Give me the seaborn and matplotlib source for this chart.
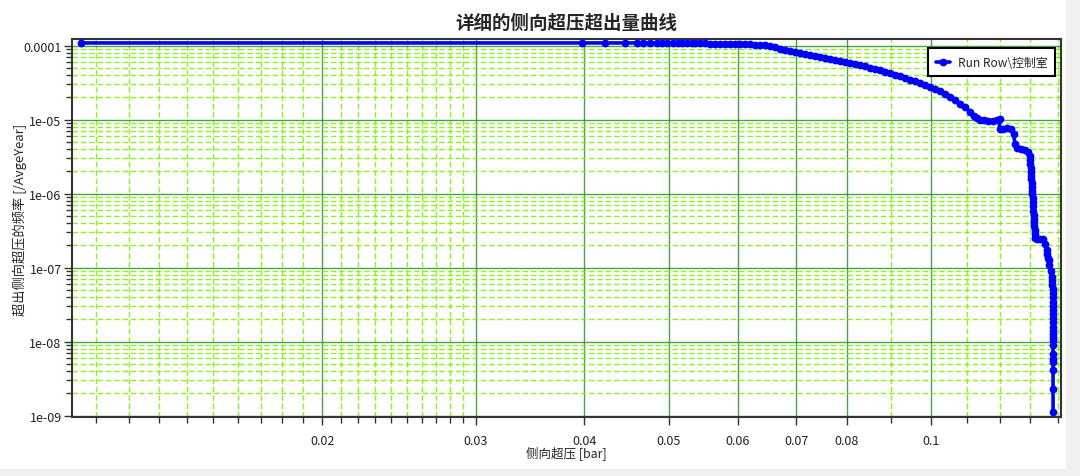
import numpy as np
import pandas as pd
import seaborn as sns
import matplotlib
matplotlib.use("Agg")
import matplotlib.pyplot as plt
from matplotlib.ticker import FixedLocator, FixedFormatter, LogLocator, NullFormatter
from matplotlib.patches import Rectangle

# exceedance curve: overpressure [bar] vs frequency [/AvgeYear]
overpressure = [
    0.01057, 0.03972, 0.04225, 0.04454, 0.04594, 0.04674, 0.04758, 0.04843,
    0.04908, 0.04973, 0.05060, 0.05124, 0.05174, 0.05243, 0.05313, 0.05359,
    0.05430, 0.05502, 0.05576, 0.05650, 0.05725, 0.05801, 0.05878, 0.05956,
    0.06035, 0.06116, 0.06197, 0.06279, 0.06363, 0.06448, 0.06533, 0.06620,
    0.06708, 0.06798, 0.06888, 0.06980, 0.07072, 0.07166, 0.07262, 0.07358,
    0.07456, 0.07555, 0.07656, 0.07758, 0.07861, 0.07965, 0.08072, 0.08178,
    0.08287, 0.08397, 0.08509, 0.08622, 0.08737, 0.08853, 0.08971, 0.09090,
    0.09211, 0.09334, 0.09458, 0.09584, 0.09713, 0.09843, 0.09974, 0.10106,
    0.10241, 0.10377, 0.10515, 0.10655, 0.10797, 0.10941, 0.11086, 0.11204,
    0.11293, 0.11383, 0.11504, 0.11626, 0.11781, 0.11907, 0.11986, 0.11986,
    0.12097, 0.12226, 0.12356, 0.12438, 0.12487, 0.12553, 0.12687, 0.12822,
    0.12924, 0.12975, 0.12985, 0.12996, 0.13010, 0.13020, 0.13030, 0.13037,
    0.13044, 0.13055, 0.13065, 0.13072, 0.13079, 0.13089, 0.13096, 0.13107,
    0.13114, 0.13124, 0.13131, 0.13141, 0.13152, 0.13166, 0.13176, 0.13236,
    0.13341, 0.13458, 0.13519, 0.13580, 0.13601, 0.13627, 0.13651, 0.13674,
    0.13717, 0.13761, 0.13772, 0.13783, 0.13790, 0.13797, 0.13802, 0.13808,
    0.13813, 0.13819, 0.13819, 0.13819, 0.13819, 0.13819, 0.13814, 0.13808,
    0.13808, 0.13808, 0.13808, 0.13808, 0.13808, 0.13808, 0.13808, 0.13808,
    0.13808,
]
frequency = [
    1.087e-4, 1.087e-4, 1.087e-4, 1.087e-4, 1.087e-4, 1.087e-4, 1.087e-4, 1.087e-4,
    1.087e-4, 1.087e-4, 1.087e-4, 1.087e-4, 1.087e-4, 1.087e-4, 1.080e-4, 1.077e-4,
    1.074e-4, 1.070e-4, 1.067e-4, 1.064e-4, 1.061e-4, 1.057e-4, 1.054e-4, 1.051e-4,
    1.047e-4, 1.044e-4, 1.041e-4, 1.035e-4, 1.025e-4, 1.012e-4, 9.85e-5, 9.46e-5,
    9.09e-5, 8.76e-5, 8.44e-5, 8.18e-5, 7.93e-5, 7.69e-5, 7.43e-5, 7.21e-5,
    6.99e-5, 6.78e-5, 6.57e-5, 6.39e-5, 6.21e-5, 6.04e-5, 5.86e-5, 5.66e-5,
    5.46e-5, 5.26e-5, 5.05e-5, 4.84e-5, 4.65e-5, 4.45e-5, 4.26e-5, 4.06e-5,
    3.86e-5, 3.66e-5, 3.46e-5, 3.28e-5, 3.09e-5, 2.92e-5, 2.76e-5, 2.60e-5,
    2.43e-5, 2.21e-5, 2.03e-5, 1.84e-5, 1.65e-5, 1.48e-5, 1.28e-5, 1.12e-5,
    1.04e-5, 9.91e-6, 9.76e-6, 9.67e-6, 9.67e-6, 9.76e-6, 1.006e-5, 7.39e-6,
    7.50e-6, 7.62e-6, 7.39e-6, 6.33e-6, 4.65e-6, 4.11e-6, 3.98e-6, 3.90e-6,
    3.63e-6, 3.21e-6, 2.83e-6, 2.50e-6, 2.21e-6, 1.96e-6, 1.73e-6, 1.58e-6,
    1.39e-6, 1.23e-6, 1.09e-6, 9.91e-7, 8.76e-7, 7.74e-7, 6.84e-7, 5.86e-7,
    5.18e-7, 4.57e-7, 4.17e-7, 3.69e-7, 3.26e-7, 2.88e-7, 2.54e-7, 2.41e-7,
    2.41e-7, 2.41e-7, 2.11e-7, 1.75e-7, 1.55e-7, 1.37e-7, 1.25e-7, 1.10e-7,
    8.89e-8, 7.39e-8, 6.53e-8, 5.77e-8, 5.10e-8, 4.51e-8, 3.98e-8, 3.41e-8,
    3.01e-8, 2.66e-8, 2.35e-8, 2.08e-8, 1.84e-8, 1.58e-8, 1.39e-8, 1.27e-8,
    1.16e-8, 1.05e-8, 8.9e-9, 6.9e-9, 5.9e-9, 5.3e-9, 4.2e-9, 2.3e-9,
    1.12e-9,
]

x_major = [0.02, 0.03, 0.04, 0.05, 0.06, 0.07, 0.08, 0.1]
x_major_labels = ["0.02", "0.03", "0.04", "0.05", "0.06", "0.07", "0.08", "0.1"]
x_minor = [0.011, 0.012, 0.013, 0.014, 0.015, 0.016, 0.017, 0.018, 0.019,
           0.021, 0.022, 0.023, 0.024, 0.025, 0.026, 0.027, 0.028, 0.029,
           0.09, 0.11, 0.12, 0.13, 0.14]
y_major = [1e-9, 1e-8, 1e-7, 1e-6, 1e-5, 1e-4]
y_major_labels = ["1e-09", "1e-08", "1e-07", "1e-06", "1e-05", "0.0001"]

series_name = "Run Row\\控制室"

sns.set_style("white")
plt.rcParams["font.family"] = ["Noto Sans CJK SC", "DejaVu Sans"]
plt.rcParams["axes.unicode_minus"] = False

df = pd.DataFrame({"x": overpressure, "y": frequency, "s": series_name})

fig = plt.figure(figsize=(10.8, 4.77), dpi=100)
fig.patch.set_facecolor("white")
fig.add_artist(Rectangle((1066 / 1080, 0), 1, 1, transform=fig.transFigure,
                         color="#f0f0f0", zorder=-5))
fig.add_artist(Rectangle((0, 0), 1, 7 / 477, transform=fig.transFigure,
                         color="#f0f0f0", zorder=-5))
ax = fig.add_axes([0.0667, 0.1237, 0.9157, 0.7925])
ax.set_xscale("log")
ax.set_yscale("log")

sns.lineplot(data=df, x="x", y="y", hue="s", palette=["#0000ff"], sort=False,
             estimator=None, marker="o", markersize=5.6, markeredgewidth=0,
             linewidth=2.6, ax=ax, zorder=5)

ax.set_xlim(0.01032, 0.1410)
ax.set_ylim(0.96e-9, 1.23e-4)

ax.xaxis.set_major_locator(FixedLocator(x_major))
ax.xaxis.set_major_formatter(FixedFormatter(x_major_labels))
ax.xaxis.set_minor_locator(FixedLocator(x_minor))
ax.xaxis.set_minor_formatter(NullFormatter())
ax.yaxis.set_major_locator(FixedLocator(y_major))
ax.yaxis.set_major_formatter(FixedFormatter(y_major_labels))
ax.yaxis.set_minor_locator(LogLocator(base=10, subs=np.arange(2, 10), numticks=20))
ax.yaxis.set_minor_formatter(NullFormatter())

ax.set_axisbelow(True)
ax.grid(which="minor", color="#7cf000", linestyle=(0, (4, 2)), linewidth=1.0, alpha=0.85)
ax.grid(which="major", color="#2f8f2f", linestyle="-", linewidth=1.0, alpha=0.85)

ax.tick_params(which="major", direction="out", length=6, width=1, color="#333333",
               labelsize=9, labelcolor="#222222", bottom=True, left=True)
ax.tick_params(which="minor", direction="out", length=4, width=1, color="#333333",
               bottom=True, left=True)
ax.tick_params(axis="x", which="major", pad=6)
ax.tick_params(axis="y", which="major", pad=1.5)

for sp in ax.spines.values():
    sp.set_visible(True)
    sp.set_color("#333333")
    sp.set_linewidth(1.5)

ax.set_title("详细的侧向超压超出量曲线", fontsize=13.3, fontweight="bold", pad=8)
ax.set_xlabel("侧向超压 [bar]", fontsize=9)
ax.set_ylabel("超出侧向超压的频率 [/AvgeYear]", fontsize=9.5)
ax.xaxis.set_label_coords(0.5, -0.077)
ax.yaxis.set_label_coords(-0.046, 0.524)

leg = ax.legend(loc="upper right", bbox_to_anchor=(0.9939, 0.9762), fontsize=8.6,
                frameon=True, fancybox=False, edgecolor="black", framealpha=1,
                borderaxespad=0, handlelength=1.2, handletextpad=0.6, borderpad=0.65)
leg.get_frame().set_linewidth(1.5)

fig.savefig("out.png", dpi=100)
